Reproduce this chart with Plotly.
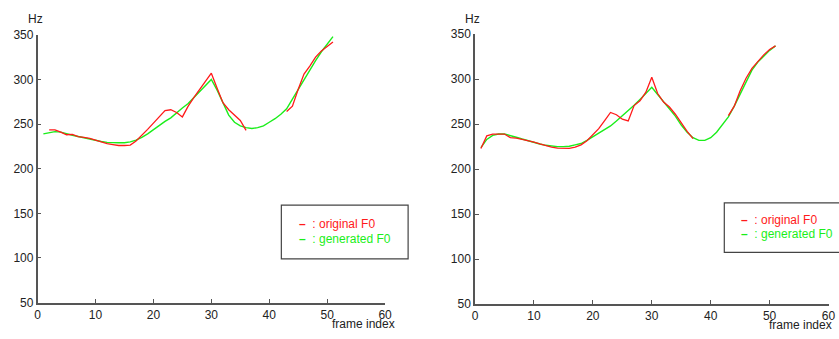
import plotly.graph_objects as go

W, H = 839, 339

# ---------------- data ----------------
frames_gen = list(range(1, 52))

# left panel
left_gen = [239, 240.5, 241.5, 241, 239, 237.5, 236, 234.5, 233, 231.5,
            230.5, 229.5, 229, 229, 229, 230, 232, 235, 239, 244,
            248, 253, 257, 263, 268, 273, 280, 287, 294, 300,
            288, 273, 260, 252, 248, 246, 245, 246, 248, 252,
            256, 261, 267, 278, 289, 300, 310, 321, 331, 340, 348]
left_orig_frames = list(range(2, 37)) + [None] + list(range(43, 52))
left_orig = [243.5, 243.5, 241, 238, 238.5, 236, 235, 234, 232, 230,
             228, 227, 226, 226, 226.5, 231, 237, 244, 251, 258,
             265, 266, 263, 258, 270, 280, 289, 298, 307, 290,
             274, 266, 260, 254, 243,
             None,
             264, 270, 289, 306, 315, 325, 332, 337, 342]

# right panel
right_gen = [224, 233, 237.5, 239, 239, 237.5, 235.5, 233.5, 231.5, 229.5,
             228, 226.5, 225.5, 225, 225, 225.5, 227, 228.5, 232, 236,
             240, 243.5, 248, 253.5, 259, 265, 271, 277.5, 284.5, 291,
             283, 275, 268, 259, 249, 241, 235, 232, 232, 235,
             241, 249, 258, 270, 283, 297, 310, 319, 326, 332, 337]
right_orig_frames = list(range(1, 38)) + [None] + list(range(43, 52))
right_orig = [223, 237, 239, 239.3, 239, 235, 234.5, 233, 231.8, 230,
              228, 226, 224.5, 223.3, 223, 223, 224.5, 227, 231.5, 238,
              245, 254, 263, 260.5, 255.5, 253.6, 270.7, 276, 285.5, 302,
              284, 274.5, 269, 261, 251.5, 242, 234,
              None,
              259.5, 270, 287, 301, 312, 320, 327, 333, 337]

x_ticks = [0, 10, 20, 30, 40, 50, 60]
y_ticks = [50, 100, 150, 200, 250, 300, 350]
legend_labels = [": original F0", ": generated F0"]

RED = "#ff1a1a"
GREEN = "#1aee1a"
AX = "#555555"
FONT = "Liberation Sans, Arial, sans-serif"


def px(x):
    return x / W


def py(y):
    return 1 - y / H


fig = go.Figure()

fig.add_trace(go.Scatter(x=frames_gen, y=left_gen, mode="lines",
                         line=dict(color=GREEN, width=1.4), xaxis="x", yaxis="y"))
fig.add_trace(go.Scatter(x=left_orig_frames, y=left_orig, mode="lines",
                         line=dict(color=RED, width=1.3), xaxis="x", yaxis="y",
                         connectgaps=False))
fig.add_trace(go.Scatter(x=frames_gen, y=right_gen, mode="lines",
                         line=dict(color=GREEN, width=1.4), xaxis="x2", yaxis="y2"))
fig.add_trace(go.Scatter(x=right_orig_frames, y=right_orig, mode="lines",
                         line=dict(color=RED, width=1.3), xaxis="x2", yaxis="y2",
                         connectgaps=False))

axis_common = dict(showgrid=False, zeroline=False, showline=True, linecolor=AX,
                   linewidth=1.5, ticks="inside", ticklen=4, tickcolor=AX,
                   tickwidth=1.2, tickfont=dict(family=FONT, size=12, color="#222"),
                   mirror=False)

fig.update_layout(
    width=W, height=H,
    margin=dict(l=0, r=0, t=0, b=0),
    paper_bgcolor="white", plot_bgcolor="white",
    showlegend=False, hovermode=False,
    xaxis=dict(domain=[px(35), px(386.7)], range=[0, 60], tickvals=x_ticks,
               anchor="y", **axis_common),
    yaxis=dict(domain=[py(308.3), py(29)], range=[50, 350], tickvals=y_ticks,
               anchor="x", **axis_common),
    xaxis2=dict(domain=[px(477.7), px(835.5)], range=[0, 60], tickvals=x_ticks,
                anchor="y2", **axis_common),
    yaxis2=dict(domain=[py(310), py(28.3)], range=[50, 350], tickvals=y_ticks,
                anchor="x2", **axis_common),
)

annos = []
# Hz labels
annos.append(dict(x=px(33), y=py(13), text="Hz"))
annos.append(dict(x=px(475), y=py(12), text="Hz"))
# frame index labels
annos.append(dict(x=px(365), y=py(331), text="frame index"))
annos.append(dict(x=px(807.5), y=py(332), text="frame index"))
for a in annos:
    a.update(xref="paper", yref="paper", showarrow=False,
             font=dict(family=FONT, size=12, color="#222"),
             xanchor="center", yanchor="middle")

# legend boxes
shapes = [
    dict(type="rect", xref="paper", yref="paper",
         x0=px(281.7), x1=px(410), y0=py(262.7), y1=py(206.7),
         line=dict(color="#444", width=1.2), fillcolor="white", layer="above"),
    dict(type="rect", xref="paper", yref="paper",
         x0=px(730), x1=px(870), y0=py(256), y1=py(204.3),
         line=dict(color="#444", width=1.2), fillcolor="white", layer="above"),
]

leg_pos = [((298, 226), (298, 241.5)), ((745, 222), (745, 236.5))]
for (p1, p2) in leg_pos:
    for (pos, lab, col) in ((p1, legend_labels[0], RED), (p2, legend_labels[1], GREEN)):
        annos.append(dict(xref="paper", yref="paper", showarrow=False,
                          x=px(pos[0]), y=py(pos[1]), xanchor="left", yanchor="middle",
                          text="<b>\u2013</b>  " + lab,
                          font=dict(family=FONT, size=12, color=col)))

fig.update_layout(annotations=annos, shapes=shapes)

fig.write_html("out.html")
